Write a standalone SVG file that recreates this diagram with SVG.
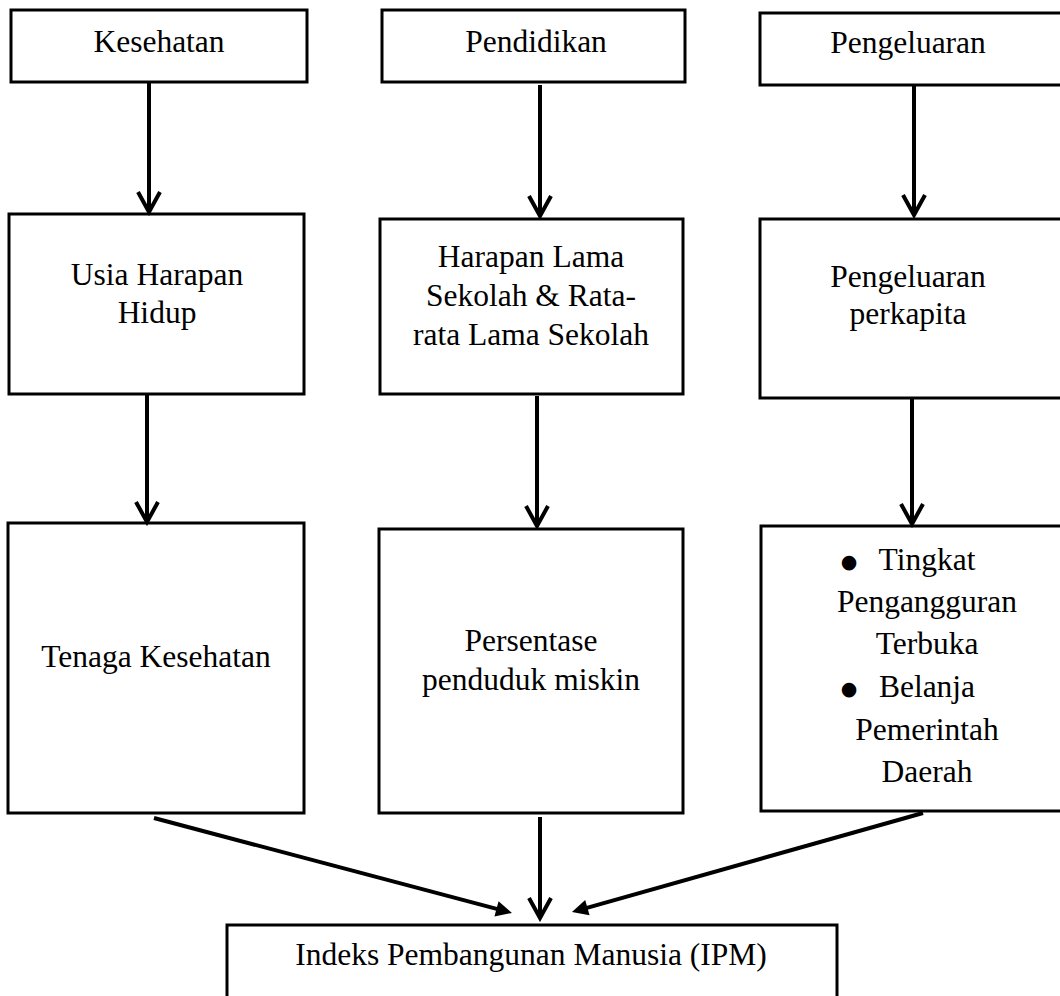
<svg xmlns="http://www.w3.org/2000/svg" width="1060" height="996" viewBox="0 0 1060 996">
<style>
.box{fill:#fff;stroke:#000;stroke-width:3}
.t{font-family:"Liberation Serif","Times New Roman",serif;font-size:31.5px;fill:#000;text-anchor:middle}
.b{font-family:"DejaVu Sans",sans-serif;font-size:19px;fill:#000;text-anchor:middle}
.arr{fill:none;stroke:#000;stroke-width:4}
</style>
<defs>
<marker id="open" markerUnits="userSpaceOnUse" viewBox="-26 -15 30 30" markerWidth="30" markerHeight="30" refX="0" refY="0" orient="auto">
<path d="M-20,-11 L0,0 L-20,11" fill="none" stroke="#000" stroke-width="4"/>
</marker>
<marker id="fill" markerUnits="userSpaceOnUse" viewBox="-20 -10 24 20" markerWidth="24" markerHeight="20" refX="-10" refY="0" orient="auto">
<path d="M-16,-8 L0,0 L-16,8 Z" fill="#000"/>
</marker>
</defs>
<rect width="1060" height="996" fill="#fff"/>
<g id="kesehatan"><rect class="box" x="11" y="10" width="296" height="72"/><text class="t" x="159" y="52">Kesehatan</text></g>
<g id="pendidikan"><rect class="box" x="382" y="10" width="303" height="72"/><text class="t" x="536" y="52">Pendidikan</text></g>
<g id="pengeluaran"><rect class="box" x="760" y="13" width="320" height="72"/><text class="t" x="908" y="53">Pengeluaran</text></g>
<g id="usia"><rect class="box" x="9" y="214" width="295" height="180"/><text class="t" x="157" y="285">Usia Harapan</text><text class="t" x="157" y="323">Hidup</text></g>
<g id="harapan"><rect class="box" x="380" y="219" width="303" height="175"/><text class="t" x="531" y="267">Harapan Lama</text><text class="t" x="531" y="306">Sekolah &amp; Rata-</text><text class="t" x="531" y="345">rata Lama Sekolah</text></g>
<g id="perkapita"><rect class="box" x="760" y="219" width="320" height="179"/><text class="t" x="908" y="287">Pengeluaran</text><text class="t" x="908" y="324">perkapita</text></g>
<g id="tenaga"><rect class="box" x="8" y="523" width="296" height="290"/><text class="t" x="156" y="667">Tenaga Kesehatan</text></g>
<g id="persentase"><rect class="box" x="379" y="529" width="304" height="284"/><text class="t" x="531" y="651">Persentase</text><text class="t" x="531" y="690">penduduk miskin</text></g>
<g id="tingkat"><rect class="box" x="761" y="526" width="320" height="285"/>
<text class="b" x="849" y="568">●</text><text class="t" x="927" y="570">Tingkat</text>
<text class="t" x="927" y="612">Pengangguran</text>
<text class="t" x="927" y="654">Terbuka</text>
<text class="b" x="849" y="695">●</text><text class="t" x="927" y="697">Belanja</text>
<text class="t" x="927" y="740">Pemerintah</text>
<text class="t" x="927" y="782">Daerah</text></g>
<g id="ipm"><rect class="box" x="227" y="925" width="610" height="100"/><text class="t" x="531" y="965">Indeks Pembangunan Manusia (IPM)</text></g>
<g id="connectors">
<path class="arr" d="M149,82 L149,212" marker-end="url(#open)"/>
<path class="arr" d="M540,85 L540,216" marker-end="url(#open)"/>
<path class="arr" d="M914,85 L914,215" marker-end="url(#open)"/>
<path class="arr" d="M147,394 L147,522" marker-end="url(#open)"/>
<path class="arr" d="M537,396 L537,526" marker-end="url(#open)"/>
<path class="arr" d="M912,398 L912,524" marker-end="url(#open)"/>
<path class="arr" d="M540,817 L540,918" marker-end="url(#open)"/>
<path class="arr" d="M154,818 L502.3,910.4" marker-end="url(#fill)"/>
<path class="arr" d="M923,813 L581.6,909.3" marker-end="url(#fill)"/>
</g>
</svg>
